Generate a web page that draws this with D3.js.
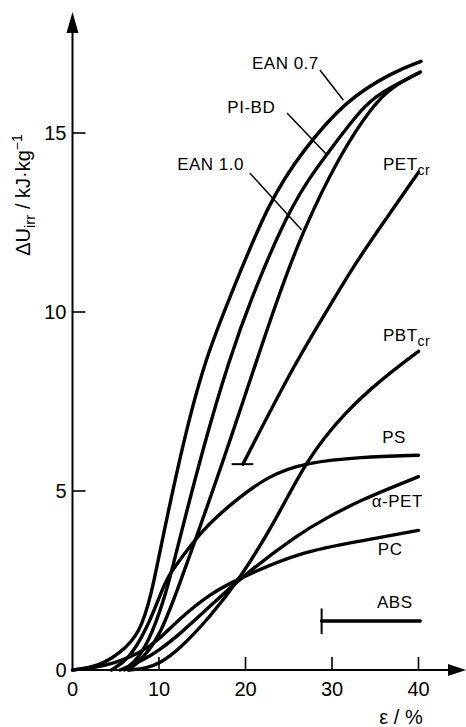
<!DOCTYPE html>
<html>
<head>
<meta charset="utf-8">
<script src="https://cdn.jsdelivr.net/npm/d3@7"></script>
<style>
  body { margin: 0; background: #fff; }
  text { font-family: "Liberation Sans", Arial, sans-serif; fill: #000; }
</style>
</head>
<body>
<div id="chart"></div>
<script>
const width = 466;
const height = 727;

// strain eps (%) vs irreversible energy dU (kJ/kg)
const ean07 = [[0,0],[3,0.1],[5.4,0.45],[7.8,1.0],[9.2,2.2],[10,3.2],[12.8,6.4],[15.3,8.65],[18,10.3],[22.7,13.1],[26.6,14.5],[31.5,15.9],[37,16.7],[40.3,17.0]];
const pibd = [[6,0],[7.6,0.3],[9.2,1.0],[10.9,2.2],[12,3.3],[15.3,6.4],[18.1,8.65],[20.5,10.3],[25.4,13.1],[29.4,14.4],[34,15.9],[37,16.3],[40.2,16.7]];
const ean10 = [[6.5,0],[8,0.3],[10,0.9],[12.1,2.2],[15.7,4.65],[18.2,6.4],[21.3,8.65],[23.6,10.3],[26.5,12.2],[30.9,14.4],[34.8,15.8],[37,16.3],[40.2,16.7]];
const petCr = [[19.7,5.75],[25.9,8.66],[30.1,10.3],[32.4,11.26],[37.1,12.9],[40,13.9]];
const pbtCr = [[6.5,0],[8.5,0.05],[10,0.17],[12.3,0.56],[15.9,1.48],[19.4,2.57],[23.4,4.13],[27.1,5.9],[31.5,7.2],[35.6,8.1],[40,8.9]];
const ps = [[4.5,0],[6.5,0.3],[8.5,1.1],[10.3,2.2],[11.1,2.65],[13.1,3.3],[15,3.9],[18.1,4.6],[22.7,5.45],[27.1,5.8],[33.3,5.95],[40,6.0]];
const aPet = [[5.5,0],[8,0.25],[10,0.55],[12.3,0.98],[16,1.8],[19.4,2.57],[26.3,3.83],[29.4,4.25],[33.3,4.75],[40,5.4]];
const pc = [[0,0],[4,0.1],[8,0.5],[10,0.85],[12.3,1.42],[16,2.15],[19.4,2.57],[26.3,3.3],[33.3,3.6],[40,3.9]];
const abs = [[28.8,1.37],[40.2,1.37]];

const xTicks = [0, 10, 20, 30, 40];
const yTicks = [0, 5, 10, 15];

let x = d3.scaleLinear().domain([0, 40]).range([72.5, 418.5]);
let y = d3.scaleLinear().domain([0, 15]).range([670, 133]);

let svg = d3.select("#chart")
  .append("svg")
  .attr("width", width)
  .attr("height", height)
  .attr("viewBox", [0, 0, width, height]);

svg.append("rect").attr("width", width).attr("height", height).attr("fill", "white");

// axes with arrow heads
const x0 = x(0), y0 = y(0);
svg.append("line")
  .attr("stroke", "black").attr("stroke-width", 2)
  .attr("x1", x0).attr("y1", y0).attr("x2", x0).attr("y2", 25);
svg.append("path")
  .attr("fill", "black")
  .attr("d", `M${x0},12 L${x0 - 6},33 L${x0 + 6},33 Z`);
svg.append("line")
  .attr("stroke", "black").attr("stroke-width", 2)
  .attr("x1", x0).attr("y1", y0).attr("x2", 455).attr("y2", y0);
svg.append("path")
  .attr("fill", "black")
  .attr("d", `M466,${y0} L448,${y0 - 6} L448,${y0 + 6} Z`);

// ticks pointing inwards
svg.append("g").selectAll("line")
  .data(xTicks.filter(d => d > 0))
  .join("line")
    .attr("stroke", "black").attr("stroke-width", 1.6)
    .attr("x1", d => x(d)).attr("x2", d => x(d))
    .attr("y1", y0).attr("y2", y0 - 13);
svg.append("g").selectAll("line")
  .data(yTicks.filter(d => d > 0))
  .join("line")
    .attr("stroke", "black").attr("stroke-width", 1.6)
    .attr("x1", x0).attr("x2", x0 + 13)
    .attr("y1", d => y(d)).attr("y2", d => y(d));

svg.append("g").selectAll("text")
  .data(xTicks)
  .join("text")
    .attr("x", d => x(d))
    .attr("y", y0 + 26)
    .attr("text-anchor", "middle")
    .attr("font-size", 20)
    .text(d => d);
svg.append("g").selectAll("text")
  .data(yTicks)
  .join("text")
    .attr("x", x0 - 6)
    .attr("y", d => y(d) + 7)
    .attr("text-anchor", "end")
    .attr("font-size", 20)
    .text(d => d);

// axis titles
let yt = svg.append("text")
  .attr("transform", "translate(30,195) rotate(-90)")
  .attr("text-anchor", "middle")
  .attr("font-size", 20);
yt.append("tspan").text("ΔU");
yt.append("tspan").attr("dy", 5).attr("font-size", 15).text("irr");
yt.append("tspan").attr("dy", -5).text(" / kJ·kg");
yt.append("tspan").attr("dy", -8).attr("font-size", 14).text("−1");

svg.append("text")
  .attr("x", 401).attr("y", 724)
  .attr("text-anchor", "middle")
  .attr("font-size", 20)
  .text("ε / %");

// curves
const line = d3.line()
  .x(d => x(d[0]))
  .y(d => y(d[1]))
  .curve(d3.curveBasis);

const series = [ean07, pibd, ean10, petCr, pbtCr, ps, aPet, pc, abs];
svg.append("g")
    .attr("fill", "none")
    .attr("stroke", "black")
    .attr("stroke-width", 3.4)
    .attr("stroke-linecap", "round")
  .selectAll("path")
  .data(series)
  .join("path")
    .attr("d", line);

// end marks: start of PET_cr and ABS
svg.append("line")
  .attr("stroke", "black").attr("stroke-width", 2)
  .attr("x1", x(18.4)).attr("x2", x(20.9))
  .attr("y1", y(5.75)).attr("y2", y(5.75));
svg.append("line")
  .attr("stroke", "black").attr("stroke-width", 2)
  .attr("x1", x(28.8)).attr("x2", x(28.8))
  .attr("y1", y(1.72)).attr("y2", y(1.0));

// leader lines
const leaders = [
  [[28.6, 16.76], [31.3, 15.92]],
  [[24.8, 15.56], [29.4, 14.39]],
  [[20.5, 13.88], [26.5, 12.29]]
];
svg.append("g")
    .attr("stroke", "black")
    .attr("stroke-width", 1.5)
  .selectAll("line")
  .data(leaders)
  .join("line")
    .attr("x1", d => x(d[0][0])).attr("y1", d => y(d[0][1]))
    .attr("x2", d => x(d[1][0])).attr("y2", d => y(d[1][1]));

// curve labels
const labels = [
  { x: 20.75, y: 16.8, name: "EAN 0.7" },
  { x: 17.9, y: 15.56, name: "PI-BD" },
  { x: 12.1, y: 13.97, name: "EAN 1.0" },
  { x: 35.9, y: 13.97, name: "PET", sub: "cr" },
  { x: 35.9, y: 9.2, name: "PBT", sub: "cr" },
  { x: 35.8, y: 6.34, name: "PS" },
  { x: 34.6, y: 4.55, name: "α-PET" },
  { x: 35.3, y: 3.2, name: "PC" },
  { x: 35.2, y: 1.73, name: "ABS" }
];
let lab = svg.append("g")
  .selectAll("text")
  .data(labels)
  .join("text")
    .attr("x", d => x(d.x))
    .attr("y", d => y(d.y))
    .attr("font-size", 17)
    .attr("letter-spacing", 0.5);
lab.append("tspan").text(d => d.name);
lab.filter(d => d.sub)
  .append("tspan")
    .attr("dy", 5)
    .attr("font-size", 14)
    .text(d => d.sub);
</script>
</body>
</html>
